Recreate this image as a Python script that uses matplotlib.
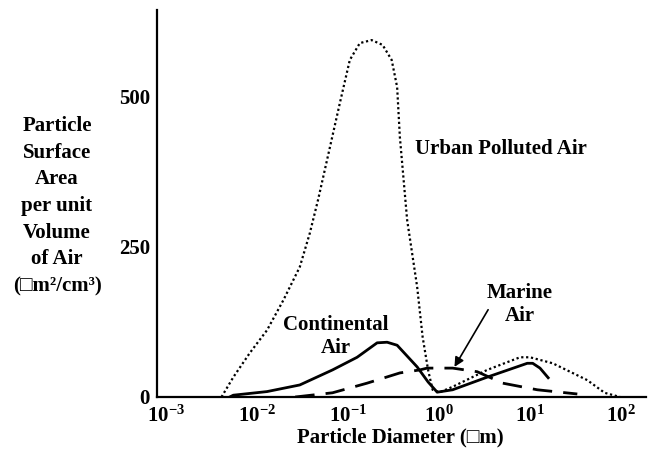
import numpy as np
import matplotlib
matplotlib.use("Agg")
import matplotlib.pyplot as plt

plt.rcParams["font.family"] = ["Liberation Serif", "DejaVu Serif"]
plt.rcParams["font.weight"] = "bold"
plt.rcParams["mathtext.fontset"] = "custom"
plt.rcParams["mathtext.rm"] = "Liberation Serif:bold"
plt.rcParams["mathtext.bf"] = "Liberation Serif:bold"
plt.rcParams["mathtext.default"] = "regular"

# values (log10 of diameter in um, surface area)
urban_logd = [-2.39, -2.26, -2.08, -1.89, -1.71, -1.53, -1.42, -1.33, -1.23, -1.09,
              -0.98, -0.87, -0.74, -0.62, -0.52, -0.46, -0.43, -0.35, -0.24, -0.18,
              -0.12, -0.07, 0.01, 0.15, 0.53, 0.89, 1.00, 1.25, 1.63, 1.82, 1.99]
urban_area = [0, 33, 73, 111, 161, 216, 272, 327, 394, 488,
              560, 588, 593, 585, 560, 515, 432, 294, 183, 100,
              45, 12, 8, 17, 45, 66, 66, 56, 28, 7, 0]

cont_logd = [-2.30, -2.26, -1.89, -1.53, -1.17, -0.90, -0.68, -0.57, -0.46, -0.24,
             -0.12, -0.02, 0.15, 0.53, 0.97, 1.03, 1.11, 1.20]
cont_area = [0, 3, 9, 20, 45, 66, 90, 91, 86, 50,
             25, 8, 12, 33, 56, 56, 48, 32]

marine_logd = [-1.58, -1.17, -0.79, -0.43, -0.21, -0.13, 0.15, 0.42, 0.70, 1.08, 1.52]
marine_area = [0, 7, 23, 40, 45, 48, 48, 42, 23, 12, 5]

xticks = [1e-3, 1e-2, 1e-1, 1e0, 1e1, 1e2]
xticklabels = [r"$10^{-3}$", r"$10^{-2}$", r"$10^{-1}$", r"$10^{0}$", r"$10^{1}$", r"$10^{2}$"]
yticks = [0, 250, 500]

fig = plt.figure(figsize=(6.5, 4.62), dpi=100)
ax = fig.add_axes([157 / 650, 65 / 462, 489 / 650, 387 / 462])

ax.plot(10 ** np.array(urban_logd), urban_area, color="black", lw=1.6,
        linestyle=(0, (1, 1.2)))
ax.plot(10 ** np.array(cont_logd), cont_area, color="black", lw=2.0)
ax.plot(10 ** np.array(marine_logd), marine_area, color="black", lw=2.0,
        linestyle=(0, (7, 4)))

ax.set_xscale("log")
ax.set_xlim(10 ** -3.099, 10 ** 2.275)
ax.set_ylim(0, 643)
ax.set_xticks(xticks)
ax.set_xticklabels(xticklabels)
ax.minorticks_off()
ax.set_yticks(yticks)
ax.tick_params(axis="x", length=0, labelsize=15, pad=6)
ax.tick_params(axis="y", length=0, labelsize=15, pad=5)
for s in ["top", "right"]:
    ax.spines[s].set_visible(False)
for s in ["left", "bottom"]:
    ax.spines[s].set_linewidth(1.6)

ax.text(10 ** -0.264, 412, "Urban Polluted Air", fontsize=15, fontweight="bold",
        ha="left", va="center")
ax.text(10 ** -1.132, 101, "Continental\nAir", fontsize=15, fontweight="bold",
        ha="center", va="center", linespacing=1.2)
ax.text(10 ** 0.89, 153, "Marine\nAir", fontsize=15, fontweight="bold",
        ha="center", va="center", linespacing=1.2)
ax.annotate("", xy=(10 ** 0.17, 50), xytext=(10 ** 0.54, 145),
            arrowprops=dict(arrowstyle="-|>", color="black", lw=1.2,
                            shrinkA=0, shrinkB=0, mutation_scale=14))

fig.text(57 / 650, 1 - 206 / 462,
         "Particle\nSurface\nArea\nper unit\nVolume\nof Air\n(\u25a1m\u00b2/cm\u00b3)",
         fontsize=15, fontweight="bold", ha="center", va="center", linespacing=1.45)
fig.text(400 / 650, 1 - 437 / 462, "Particle Diameter (\u25a1m)", fontsize=15,
         fontweight="bold", ha="center", va="center")

fig.savefig("out.png", dpi=100)
